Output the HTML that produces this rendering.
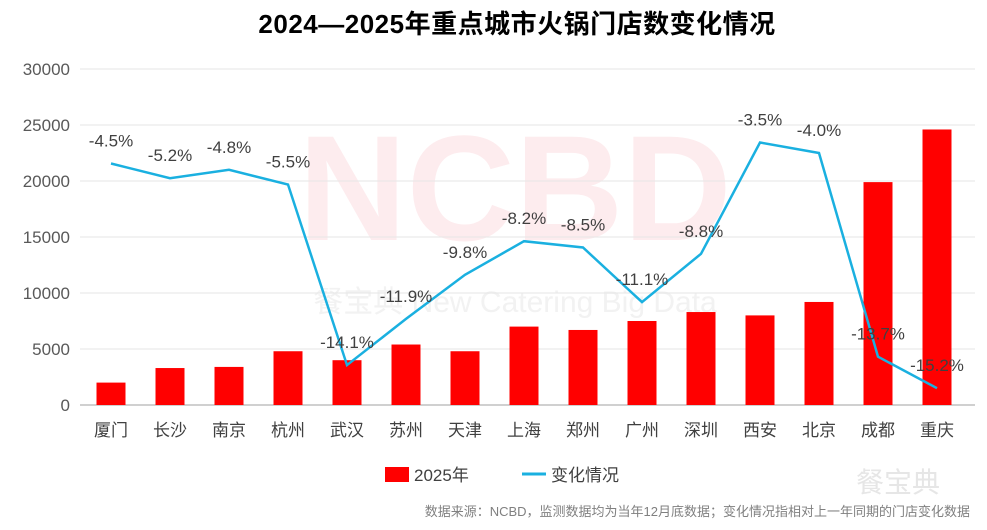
<!DOCTYPE html>
<html><head><meta charset="utf-8"><style>
body{margin:0;background:#fff;width:987px;height:525px;overflow:hidden;font-family:"Liberation Sans","Noto Sans CJK SC",sans-serif;}
svg text{font-family:"Liberation Sans","Noto Sans CJK SC",sans-serif;}
</style></head><body>
<svg id="chart" width="987" height="525">
<text x="517" y="33" text-anchor="middle" font-size="26" font-weight="bold" letter-spacing="0.5" fill="#000">2024—2025年重点城市火锅门店数变化情况</text>
<text x="515" y="240" text-anchor="middle" font-size="150" font-weight="bold" fill="#fdecee">NCBD</text>
<text x="515" y="312" text-anchor="middle" font-size="30" fill="#f2f2f2">餐宝典 New Catering Big Data</text>
<g id="grid"></g><g id="bars"></g><g id="line"></g><g id="labels"></g>
<rect x="385" y="467" width="24" height="15" fill="#ff0000"/>
<text x="414" y="481" font-size="17" fill="#404040">2025年</text>
<line x1="522" y1="474" x2="546" y2="474" stroke="#1ab0e0" stroke-width="3"/>
<text x="551" y="481" font-size="17" fill="#404040">变化情况</text>
<text x="898" y="492" text-anchor="middle" font-size="28" fill="#e6e6e6">餐宝典</text>
<text x="970" y="516" text-anchor="end" font-size="13" fill="#808080">数据来源：NCBD，监测数据均为当年12月底数据；变化情况指相对上一年同期的门店变化数据</text>
</svg>
<script>
const cities=["厦门","长沙","南京","杭州","武汉","苏州","天津","上海","郑州","广州","深圳","西安","北京","成都","重庆"];
const stores=[2000,3300,3400,4800,4000,5400,4800,7000,6700,7500,8300,8000,9200,19900,24600];
const changes=[-4.5,-5.2,-4.8,-5.5,-14.1,-11.9,-9.8,-8.2,-8.5,-11.1,-8.8,-3.5,-4.0,-13.7,-15.2];
const yTicks=[0,5000,10000,15000,20000,25000,30000];
const NS="http://www.w3.org/2000/svg";
const y=v=>405-v/30000*336;
const y2=v=>69+(-v)/16*336;
const x=i=>111+i*59;
function mk(tag,attrs,parent){const e=document.createElementNS(NS,tag);for(const k in attrs)e.setAttribute(k,attrs[k]);document.getElementById(parent).appendChild(e);return e;}
yTicks.forEach(t=>{
 const l=mk("line",{x1:80,x2:975,y1:y(t),y2:y(t),stroke:t===0?"#d0d0d0":"#e6e6e6","stroke-width":t===0?2:1},"grid");
 
 
 const tx=mk("text",{x:70,y:y(t)+6,"text-anchor":"end","font-size":17,fill:"#595959"},"grid");
 tx.textContent=t;
 
 
});
cities.forEach((c,i)=>{
 const r=mk("rect",{x:x(i)-14.5,y:y(stores[i]),width:29,height:405-y(stores[i]),fill:"#ff0000"},"bars");
 
 
 const t=mk("text",{x:x(i),y:436,"text-anchor":"middle","font-size":17,fill:"#404040"},"labels");
 t.textContent=c;
 
 
 const p=mk("text",{x:x(i),y:y2(changes[i])-17,"text-anchor":"middle","font-size":17,fill:"#404040"},"labels");
 p.textContent=changes[i].toFixed(1)+"%";
 
 
});
const pl=mk("polyline",{points:changes.map((v,i)=>x(i)+","+y2(v)).join(" "),fill:"none",stroke:"#1ab0e0","stroke-width":2.5},"line");


</script>
</body></html>
